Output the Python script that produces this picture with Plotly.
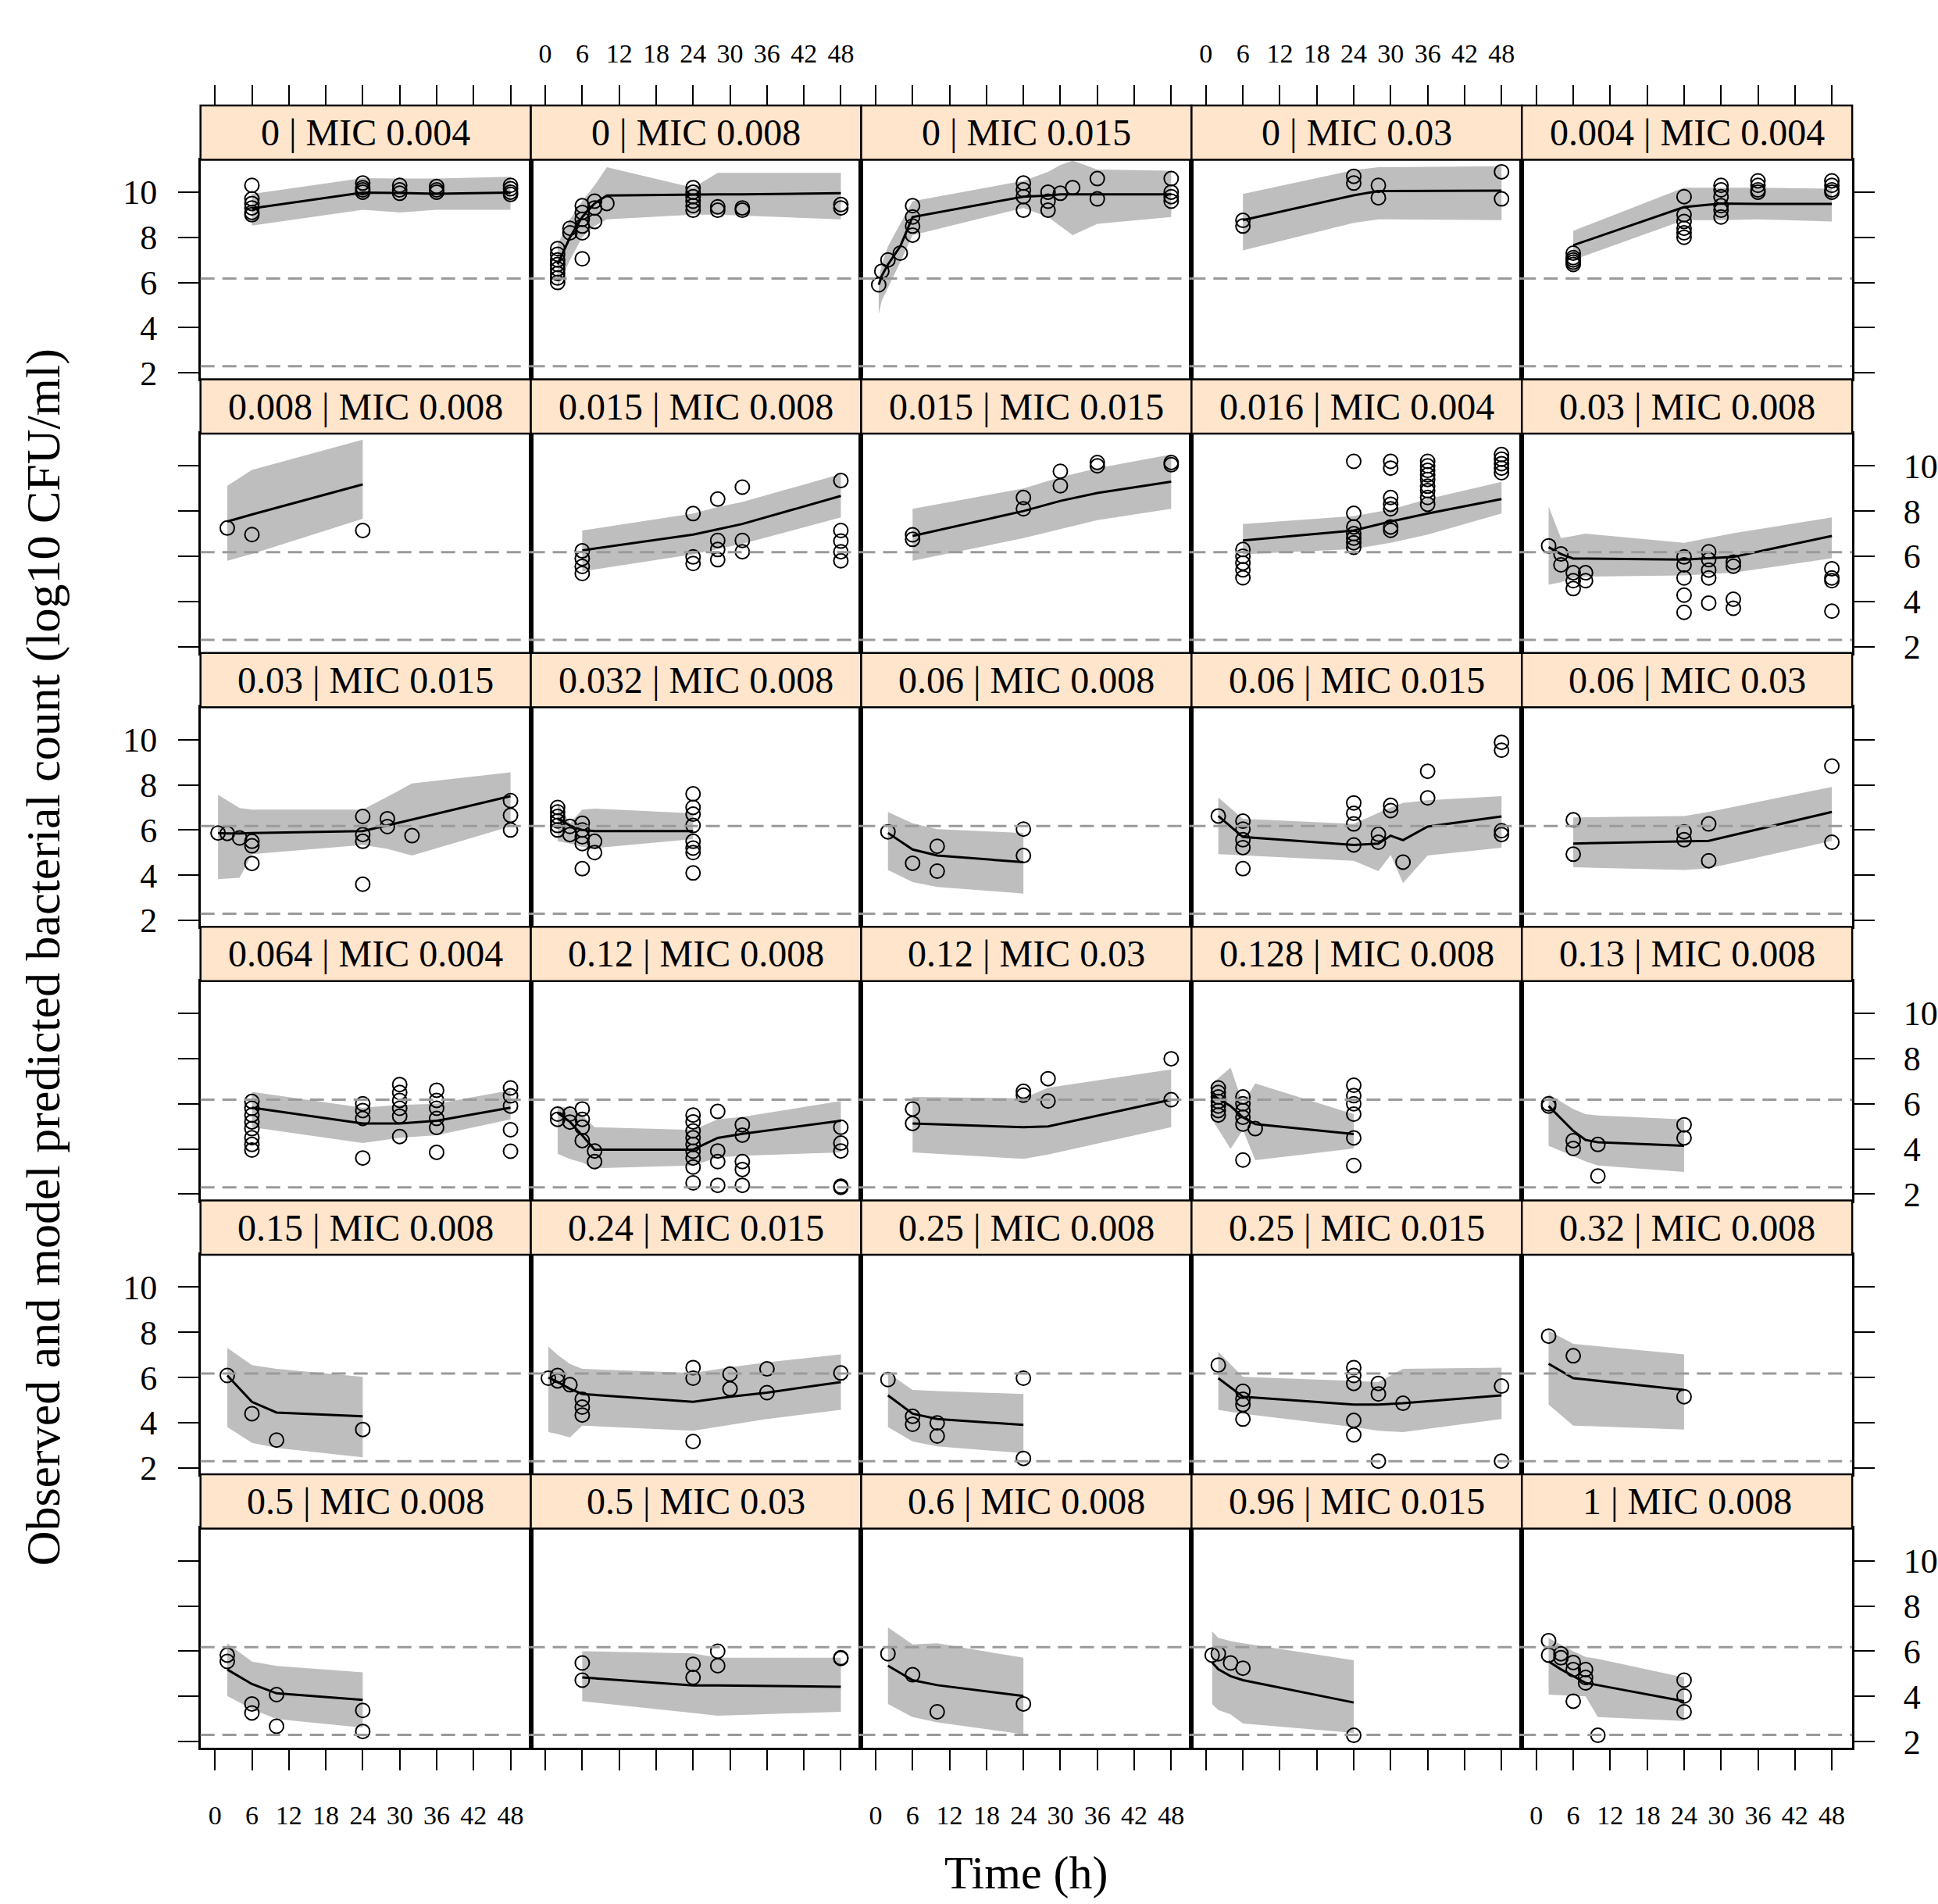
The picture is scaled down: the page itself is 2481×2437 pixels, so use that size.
import plotly.graph_objects as go

# ---------------- data ----------------
doses = ["0", "0", "0", "0", "0.004",
         "0.008", "0.015", "0.015", "0.016", "0.03",
         "0.03", "0.032", "0.06", "0.06", "0.06",
         "0.064", "0.12", "0.12", "0.128", "0.13",
         "0.15", "0.24", "0.25", "0.25", "0.32",
         "0.5", "0.5", "0.6", "0.96", "1"]
mics = ["0.004", "0.008", "0.015", "0.03", "0.004",
        "0.008", "0.008", "0.015", "0.004", "0.008",
        "0.015", "0.008", "0.008", "0.015", "0.03",
        "0.004", "0.008", "0.03", "0.008", "0.008",
        "0.008", "0.015", "0.008", "0.015", "0.008",
        "0.008", "0.03", "0.008", "0.015", "0.008"]

x_ticks = [0, 6, 12, 18, 24, 30, 36, 42, 48]
y_ticks = [2, 4, 6, 8, 10]
x_range = [-2.35, 51.3]
y_range = [1.72, 11.43]
limit_high = 6.18   # upper dashed reference line
limit_low = 2.3     # lower dashed reference line (LOQ)

p01_obs_t = [6, 6, 6, 6, 6, 6, 24, 24, 24, 24, 30, 30, 30, 36, 36, 36, 48, 48, 48, 48]
p01_obs_y = [10.3, 9.7, 9.5, 9.3, 9.1, 9.0, 10.4, 10.2, 10.1, 10.0, 10.3, 10.1, 9.95, 10.25, 10.1, 10.0, 10.3, 10.15, 10.0, 9.9]
p01_t = [6, 24, 30, 36, 48]
p01_med = [9.28, 9.98, 9.96, 9.93, 9.98]
p01_lo = [8.52, 9.22, 9.1, 9.22, 9.22]
p01_hi = [9.92, 10.62, 10.6, 10.6, 10.68]

p02_obs_t = [2, 2, 2, 2, 2, 2, 2, 2, 4, 4, 6, 6, 6, 6, 6, 6, 8, 8, 8, 10, 24, 24, 24, 24, 24, 24, 28, 28, 32, 32, 48, 48]
p02_obs_y = [7.5, 7.25, 7.0, 6.8, 6.6, 6.4, 6.2, 6.0, 8.4, 8.2, 9.4, 9.1, 8.8, 8.5, 8.2, 7.05, 9.6, 9.3, 8.7, 9.5, 10.2, 10.0, 9.8, 9.6, 9.4, 9.2, 9.35, 9.2, 9.3, 9.2, 9.45, 9.3]
p02_t = [2, 4, 6, 8, 10, 24, 28, 32, 48]
p02_med = [6.8, 8.0, 8.9, 9.5, 9.85, 9.9, 9.9, 9.9, 9.95]
p02_lo = [5.8, 7.0, 8.0, 8.5, 8.8, 9.0, 9.0, 8.95, 8.8]
p02_hi = [7.7, 8.8, 9.6, 10.3, 11.1, 10.2, 10.85, 10.85, 10.85]

p03_obs_t = [0.5, 1, 2, 4, 6, 6, 6, 6, 24, 24, 24, 24, 28, 28, 28, 30, 32, 36, 36, 48, 48, 48, 48]
p03_obs_y = [5.9, 6.5, 7.0, 7.3, 9.4, 8.9, 8.5, 8.1, 10.4, 10.1, 9.8, 9.2, 10.0, 9.6, 9.2, 9.95, 10.2, 10.6, 9.7, 10.6, 10.0, 9.8, 9.6]
p03_t = [0.5, 1, 2, 4, 6, 24, 28, 30, 32, 36, 48]
p03_med = [5.9, 6.3, 6.8, 7.6, 8.9, 9.8, 9.85, 9.9, 9.9, 9.9, 9.9]
p03_lo = [4.6, 5.2, 5.8, 6.9, 8.1, 9.3, 8.9, 8.5, 8.1, 8.6, 8.9]
p03_hi = [6.2, 6.8, 7.6, 8.6, 9.6, 10.5, 10.9, 11.2, 11.4, 11.0, 10.95]

p04_obs_t = [6, 6, 24, 24, 28, 28, 48, 48]
p04_obs_y = [8.75, 8.5, 10.7, 10.4, 10.3, 9.75, 10.9, 9.7]
p04_t = [6, 24, 28, 48]
p04_med = [8.76, 9.86, 10.05, 10.07]
p04_lo = [7.42, 8.64, 8.8, 8.76]
p04_hi = [9.92, 10.97, 11.1, 11.15]

p05_obs_t = [6, 6, 6, 6, 6, 24, 24, 24, 24, 24, 24, 30, 30, 30, 30, 30, 30, 36, 36, 36, 36, 48, 48, 48, 48]
p05_obs_y = [7.3, 7.1, 7.0, 6.9, 6.8, 9.8, 9.0, 8.7, 8.4, 8.2, 8.0, 10.3, 10.1, 9.8, 9.4, 9.2, 8.9, 10.5, 10.3, 10.1, 10.0, 10.5, 10.3, 10.1, 10.0]
p05_t = [6, 24, 30, 36, 48]
p05_med = [7.65, 9.34, 9.5, 9.48, 9.48]
p05_lo = [7.0, 8.76, 8.76, 8.8, 8.7]
p05_hi = [8.29, 10.2, 10.2, 10.2, 10.15]

p06_obs_t = [2, 6, 24]
p06_obs_y = [7.25, 6.96, 7.14]
p06_t = [2, 6, 24]
p06_med = [7.54, 7.85, 9.18]
p06_lo = [5.8, 6.1, 7.66]
p06_hi = [9.12, 9.82, 11.16]

p07_obs_t = [6, 6, 6, 6, 24, 24, 24, 28, 28, 28, 28, 32, 32, 32, 48, 48, 48, 48, 48]
p07_obs_y = [6.24, 5.9, 5.55, 5.24, 7.89, 5.97, 5.68, 8.53, 6.7, 6.3, 5.85, 9.06, 6.7, 6.2, 9.35, 7.14, 6.67, 6.2, 5.8]
p07_t = [6, 24, 28, 32, 48]
p07_med = [6.26, 6.96, 7.19, 7.43, 8.67]
p07_lo = [5.33, 6.09, 6.32, 6.55, 7.72]
p07_hi = [7.14, 7.89, 8.18, 8.4, 9.64]

p08_obs_t = [6, 6, 24, 24, 30, 30, 36, 36, 48, 48]
p08_obs_y = [6.95, 6.75, 8.6, 8.1, 9.76, 9.12, 10.15, 10.0, 10.15, 10.05]
p08_t = [6, 24, 30, 36, 48]
p08_med = [6.9, 8.0, 8.45, 8.8, 9.3]
p08_lo = [5.8, 6.8, 7.2, 7.6, 8.1]
p08_hi = [8.1, 9.0, 9.5, 9.9, 10.5]

p09_obs_t = [6, 6, 6, 6, 6, 24, 24, 24, 24, 24, 24, 24, 30, 30, 30, 30, 30, 30, 30,
             36, 36, 36, 36, 36, 36, 36, 36, 36, 48, 48, 48, 48, 48]
p09_obs_y = [6.3, 6.0, 5.7, 5.4, 5.05, 10.2, 7.9, 7.3, 7.0, 6.8, 6.6, 6.4, 10.2, 9.9, 8.6, 8.3, 8.1, 7.3, 7.15,
             10.2, 10.0, 9.8, 9.6, 9.4, 9.1, 8.9, 8.6, 8.3, 10.5, 10.3, 10.1, 9.9, 9.7]
p09_t = [6, 24, 30, 36, 48]
p09_med = [6.7, 7.14, 7.54, 7.89, 8.53]
p09_lo = [6.09, 6.32, 6.6, 6.96, 7.89]
p09_hi = [7.43, 7.78, 8.07, 8.53, 9.29]

p10_obs_t = [2, 4, 4, 6, 6, 6, 8, 8, 24, 24, 24, 24, 24, 28, 28, 28, 28, 28, 32, 32, 32, 32, 48, 48, 48, 48]
p10_obs_y = [6.46, 6.1, 5.62, 5.27, 4.92, 4.57, 5.27, 4.92, 5.97, 5.62, 5.04, 4.28, 3.52, 6.2, 5.85, 5.39, 5.04, 3.93, 5.74, 5.56, 4.1, 3.7, 5.45, 5.04, 4.92, 3.57]
p10_t = [2, 4, 6, 8, 24, 28, 32, 48]
p10_med = [6.4, 6.1, 5.9, 5.9, 5.85, 5.9, 5.97, 6.9]
p10_lo = [4.75, 4.85, 5.04, 5.1, 5.15, 5.2, 5.27, 5.91]
p10_hi = [8.2, 6.8, 6.9, 7.0, 6.6, 6.8, 7.02, 7.72]

p11_obs_t = [0.5, 2, 4, 6, 6, 6, 24, 24, 24, 24, 28, 28, 32, 48, 48, 48]
p11_obs_y = [5.87, 5.85, 5.65, 5.5, 5.3, 4.52, 6.6, 5.8, 5.5, 3.6, 6.5, 6.15, 5.75, 7.3, 6.65, 6.0]
p11_t = [0.5, 2, 4, 6, 24, 28, 32, 48]
p11_med = [5.87, 5.85, 5.85, 5.87, 5.95, 6.2, 6.46, 7.5]
p11_lo = [3.83, 3.85, 3.89, 4.93, 5.34, 5.17, 4.87, 6.16]
p11_hi = [7.56, 7.3, 6.97, 6.9, 6.9, 7.47, 8.06, 8.55]

p12_obs_t = [2, 2, 2, 2, 2, 2, 4, 4, 6, 6, 6, 6, 6, 8, 8, 24, 24, 24, 24, 24, 24, 24, 24]
p12_obs_y = [7.0, 6.8, 6.6, 6.4, 6.2, 6.0, 6.16, 5.8, 6.3, 6.0, 5.7, 5.4, 4.29, 5.5, 5.0, 7.6, 7.0, 6.7, 6.2, 5.5, 5.2, 5.0, 4.1]
p12_t = [2, 4, 6, 8, 24]
p12_med = [6.5, 6.2, 6.0, 5.95, 5.95]
p12_lo = [5.5, 5.4, 5.25, 5.2, 5.6]
p12_hi = [7.2, 6.3, 6.9, 6.95, 6.74]

p13_obs_t = [2, 6, 10, 10, 24, 24]
p13_obs_y = [5.92, 4.53, 5.28, 4.18, 6.04, 4.87]
p13_t = [2, 6, 10, 24]
p13_med = [5.87, 5.14, 4.87, 4.58]
p13_lo = [4.23, 3.7, 3.48, 3.19]
p13_hi = [6.8, 6.3, 6.04, 5.87]

p14_obs_t = [2, 6, 6, 6, 6, 6, 24, 24, 24, 24, 28, 28, 30, 30, 32, 36, 36, 48, 48, 48, 48]
p14_obs_y = [6.62, 6.39, 6.04, 5.57, 5.22, 4.29, 7.2, 6.74, 6.27, 5.34, 5.81, 5.46, 7.09, 6.86, 4.58, 8.6, 7.42, 9.88, 9.53, 5.97, 5.8]
p14_t = [2, 6, 24, 28, 30, 32, 36, 48]
p14_med = [6.62, 5.69, 5.34, 5.4, 5.75, 5.55, 6.15, 6.6]
p14_lo = [4.93, 4.87, 4.64, 4.18, 4.9, 3.65, 4.87, 5.22]
p14_hi = [7.44, 6.5, 6.27, 6.74, 7.0, 7.2, 7.32, 7.5]

p15_obs_t = [6, 6, 24, 24, 28, 28, 48, 48]
p15_obs_y = [6.45, 4.93, 5.92, 5.57, 6.27, 4.64, 8.83, 5.46]
p15_t = [6, 24, 28, 48]
p15_med = [5.4, 5.48, 5.52, 6.8]
p15_lo = [4.35, 4.23, 4.3, 5.52]
p15_hi = [6.56, 6.62, 6.8, 7.91]

p16_obs_t = [6, 6, 6, 6, 6, 6, 6, 6, 24, 24, 24, 24, 30, 30, 30, 30, 30, 30, 36, 36, 36, 36, 36, 36, 48, 48, 48, 48, 48]
p16_obs_y = [6.1, 5.8, 5.5, 5.2, 4.9, 4.5, 4.2, 3.95, 6.0, 5.7, 5.35, 3.6, 6.85, 6.5, 6.15, 5.8, 5.45, 4.55, 6.6, 6.15, 5.8, 5.35, 4.95, 3.85, 6.7, 6.35, 5.9, 4.85, 3.9]
p16_t = [6, 24, 30, 36, 48]
p16_med = [5.83, 5.13, 5.13, 5.25, 5.83]
p16_lo = [4.96, 4.26, 4.5, 4.61, 5.31]
p16_hi = [6.53, 5.83, 5.95, 6.0, 6.6]

p17_obs_t = [2, 2, 4, 4, 6, 6, 6, 6, 8, 8, 24, 24, 24, 24, 24, 24, 24, 24, 24, 28, 28, 28, 28, 32, 32, 32, 32, 32, 48, 48, 48, 48, 48]
p17_obs_y = [5.54, 5.31, 5.54, 5.19, 5.77, 5.31, 4.96, 4.37, 3.91, 3.44, 5.5, 5.2, 4.8, 4.5, 4.2, 3.9, 3.6, 3.2, 2.5, 5.66, 3.91, 3.44, 2.39, 5.07, 4.61, 3.44, 3.09, 2.39, 4.96, 4.26, 3.91, 2.35, 2.3]
p17_t = [2, 4, 6, 8, 24, 28, 32, 48]
p17_med = [5.6, 5.2, 4.6, 3.97, 3.97, 4.49, 4.67, 5.25]
p17_lo = [3.79, 3.55, 3.4, 3.15, 3.27, 3.62, 3.7, 3.85]
p17_hi = [5.89, 5.8, 5.5, 4.96, 4.84, 5.31, 5.42, 6.12]

p18_obs_t = [6, 6, 24, 24, 28, 28, 48, 48]
p18_obs_y = [5.77, 5.13, 6.55, 6.38, 7.11, 6.12, 7.99, 6.18]
p18_t = [6, 24, 28, 48]
p18_med = [5.13, 4.96, 5.0, 6.18]
p18_lo = [3.85, 3.56, 3.75, 4.96]
p18_hi = [6.3, 6.24, 6.71, 7.52]

p19_obs_t = [2, 2, 2, 2, 2, 2, 2, 6, 6, 6, 6, 6, 6, 8, 24, 24, 24, 24, 24, 24]
p19_obs_y = [6.7, 6.5, 6.3, 6.1, 5.9, 5.7, 5.5, 6.3, 6.0, 5.7, 5.4, 5.1, 3.51, 4.9, 6.82, 6.36, 6.0, 5.54, 4.49, 3.27]
p19_t = [1, 4, 6, 8, 24]
p19_med = [6.4, 5.9, 5.4, 5.1, 4.66]
p19_lo = [5.3, 4.0, 4.85, 3.5, 4.02]
p19_hi = [6.9, 7.6, 6.0, 6.9, 5.54]

p20_obs_t = [2, 2, 6, 6, 10, 10, 24, 24]
p20_obs_y = [6.0, 5.9, 4.37, 4.02, 4.2, 2.8, 5.07, 4.49]
p20_t = [2, 6, 8, 10, 24]
p20_med = [5.9, 4.8, 4.4, 4.3, 4.14]
p20_lo = [4.14, 3.68, 3.45, 3.27, 2.98]
p20_hi = [6.42, 5.77, 5.54, 5.48, 5.31]

p21_obs_t = [2, 6, 10, 24]
p21_obs_y = [6.09, 4.4, 3.23, 3.7]
p21_t = [2, 6, 10, 24]
p21_med = [6.09, 4.92, 4.45, 4.28]
p21_lo = [3.81, 3.11, 2.88, 2.47]
p21_hi = [7.31, 6.55, 6.38, 6.03]

p22_obs_t = [0.5, 2, 2, 4, 6, 6, 6, 24, 24, 24, 30, 30, 36, 36, 48]
p22_obs_y = [5.97, 6.09, 5.85, 5.68, 5.04, 4.69, 4.34, 6.44, 5.97, 3.17, 6.15, 5.5, 6.38, 5.33, 6.2]
p22_t = [0.5, 2, 4, 6, 24, 30, 36, 48]
p22_med = [6.0, 5.8, 5.5, 5.27, 4.92, 5.15, 5.33, 5.8]
p22_lo = [3.58, 3.5, 3.35, 3.87, 3.64, 3.9, 4.16, 4.57]
p22_hi = [7.37, 7.0, 6.6, 6.38, 6.2, 6.45, 6.67, 7.02]

p23_obs_t = [2, 6, 6, 10, 10, 24, 24]
p23_obs_y = [5.91, 4.28, 3.93, 3.99, 3.41, 5.97, 2.42]
p23_t = [2, 6, 10, 24]
p23_med = [5.21, 4.4, 4.16, 3.9]
p23_lo = [3.81, 3.17, 2.95, 2.65]
p23_hi = [6.2, 5.45, 5.4, 5.27]

p24_obs_t = [2, 6, 6, 6, 6, 24, 24, 24, 24, 24, 28, 28, 28, 32, 48, 48]
p24_obs_y = [6.55, 5.39, 5.04, 4.8, 4.16, 6.44, 6.09, 5.74, 4.1, 3.46, 5.74, 5.27, 2.3, 4.86, 5.62, 2.3]
p24_t = [2, 6, 24, 28, 32, 48]
p24_med = [5.97, 5.15, 4.8, 4.8, 4.86, 5.21]
p24_lo = [4.57, 4.4, 3.81, 3.64, 3.58, 4.16]
p24_hi = [7.14, 6.03, 5.85, 5.8, 6.38, 6.44]

p25_obs_t = [2, 6, 24]
p25_obs_y = [7.83, 6.96, 5.15]
p25_t = [2, 6, 24]
p25_med = [6.61, 5.97, 5.45]
p25_lo = [4.8, 3.87, 3.7]
p25_hi = [8.07, 7.49, 7.02]

p26_obs_t = [2, 2, 6, 6, 10, 10, 24, 24]
p26_obs_y = [5.83, 5.55, 3.67, 3.27, 4.08, 2.68, 3.38, 2.45]
p26_t = [2, 6, 10, 24]
p26_med = [5.19, 4.55, 4.14, 3.85]
p26_lo = [4.02, 3.44, 3.0, 2.62]
p26_hi = [6.35, 5.54, 5.35, 5.07]

p27_obs_t = [6, 6, 24, 24, 28, 28, 48, 48]
p27_obs_y = [5.48, 4.72, 5.42, 4.84, 6.0, 5.36, 5.71, 5.68]
p27_t = [6, 24, 28, 48]
p27_med = [4.84, 4.49, 4.49, 4.43]
p27_lo = [3.79, 3.27, 3.15, 3.32]
p27_hi = [6.0, 5.9, 5.71, 5.71]

p28_obs_t = [2, 6, 10, 24]
p28_obs_y = [5.89, 4.96, 3.32, 3.67]
p28_t = [2, 6, 10, 24]
p28_med = [5.36, 4.72, 4.5, 4.02]
p28_lo = [3.67, 3.09, 2.85, 2.33]
p28_hi = [7.05, 6.3, 6.35, 5.71]

p29_obs_t = [1, 2, 4, 6, 24]
p29_obs_y = [5.83, 5.89, 5.48, 5.25, 2.28]
p29_t = [1, 2, 4, 6, 24]
p29_med = [5.5, 5.2, 4.9, 4.72, 3.73]
p29_lo = [3.67, 3.4, 3.21, 2.8, 2.39]
p29_hi = [6.88, 6.6, 6.45, 6.35, 5.6]

p30_obs_t = [2, 2, 4, 4, 6, 6, 6, 8, 8, 8, 10, 24, 24, 24]
p30_obs_y = [6.47, 5.83, 5.89, 5.71, 5.5, 5.19, 3.79, 5.19, 4.84, 4.6, 2.28, 4.72, 4.02, 3.32]
p30_t = [2, 4, 6, 8, 10, 24]
p30_med = [5.55, 5.2, 4.9, 4.6, 4.5, 3.79]
p30_lo = [4.08, 4.05, 4.03, 4.0, 3.09, 2.91]
p30_hi = [6.59, 6.3, 6.0, 5.75, 5.66, 4.84]

# ---------------- layout geometry (pixels) ----------------
W, H = 2481, 2437
GL, GR = 257, 2374
GT, GB = 136, 2253
NC, NR = 5, 6
CW = (GR - GL) / NC
RH = (GB - GT) / NR
SH = 70  # strip height

FONT = "Liberation Serif"
BAND = "#BEBEBE"
STRIP = "#FFE5CC"

fig = go.Figure()
shapes = []
annotations = []
layout = {}

g = globals()
for k in range(30):
    r, c = divmod(k, NC)
    n = f"p{k + 1:02d}"
    ot, oy = g[n + "_obs_t"], g[n + "_obs_y"]
    pt, pm, pl, ph = g[n + "_t"], g[n + "_med"], g[n + "_lo"], g[n + "_hi"]
    ax = "" if k == 0 else str(k + 1)
    xa, ya = "x" + ax, "y" + ax

    fig.add_trace(go.Scatter(x=pt + pt[::-1], y=ph + pl[::-1], fill="toself",
                             fillcolor=BAND, mode="lines", line=dict(width=0),
                             xaxis=xa, yaxis=ya, hoverinfo="skip", showlegend=False))
    fig.add_trace(go.Scatter(x=pt, y=pm, mode="lines", line=dict(color="black", width=3),
                             xaxis=xa, yaxis=ya, showlegend=False))
    fig.add_trace(go.Scatter(x=ot, y=oy, mode="markers",
                             marker=dict(symbol="circle-open", size=18, color="black",
                                         line=dict(width=2, color="black")),
                             xaxis=xa, yaxis=ya, showlegend=False))

    x0 = (GL + c * CW) / W
    x1 = (GL + (c + 1) * CW) / W
    stop = GT + r * RH
    y_top = 1 - (stop + SH) / H
    y_bot = 1 - (stop + RH) / H

    bottom_row = (r == NR - 1)
    layout["xaxis" + ax] = dict(
        domain=[x0, x1], anchor=ya, range=x_range, showgrid=False, zeroline=False,
        showline=True, mirror=True, linecolor="black", linewidth=2.5,
        tickmode="array", tickvals=x_ticks, ticktext=[str(v) for v in x_ticks],
        ticks="outside" if bottom_row else "", ticklen=26, tickwidth=2, tickcolor="black",
        showticklabels=bottom_row and c in (0, 2, 4), ticklabelstandoff=28,
        tickfont=dict(family=FONT, size=34, color="black"))
    yside = "right" if c == NC - 1 else "left"
    has_yt = c in (0, NC - 1)
    ylab = (c == 0 and r in (0, 2, 4)) or (c == NC - 1 and r in (1, 3, 5))
    layout["yaxis" + ax] = dict(
        domain=[y_bot, y_top], anchor=xa, range=y_range, side=yside,
        showgrid=False, zeroline=False, showline=True, mirror=True,
        linecolor="black", linewidth=2.5,
        tickmode="array", tickvals=y_ticks, ticktext=[str(v) for v in y_ticks],
        ticks="outside" if has_yt else "", ticklen=26, tickwidth=2, tickcolor="black",
        showticklabels=ylab, ticklabelstandoff=28 if c == NC - 1 else 18,
        tickfont=dict(family=FONT, size=44, color="black"))

    # reference dashed lines
    for lv in (limit_high, limit_low):
        shapes.append(dict(type="line", xref=xa + " domain", x0=0, x1=1, yref=ya, y0=lv, y1=lv,
                           line=dict(color="#9A9A9A", width=3, dash="18px,10px"), layer="above"))
    # strip
    shapes.append(dict(type="rect", xref="paper", yref="paper", x0=x0, x1=x1,
                       y0=y_top, y1=1 - stop / H, fillcolor=STRIP,
                       line=dict(color="black", width=2.5), layer="above"))
    annotations.append(dict(xref="paper", yref="paper", x=(x0 + x1) / 2,
                            y=1 - (stop + SH / 2) / H, text=f"{doses[k]} | MIC {mics[k]}",
                            showarrow=False, xanchor="center", yanchor="middle",
                            font=dict(family=FONT, size=48, color="black")))

# top tick axes (above the first-row strips)
for c in range(NC):
    idx = 31 + c
    x0 = (GL + c * CW) / W
    x1 = (GL + (c + 1) * CW) / W
    layout[f"xaxis{idx}"] = dict(
        domain=[x0, x1], anchor="free", position=1 - GT / H, side="top",
        overlaying="x" if c == 0 else f"x{c + 1}",
        range=x_range, showgrid=False, zeroline=False, showline=False,
        tickmode="array", tickvals=x_ticks, ticktext=[str(v) for v in x_ticks],
        ticks="outside", ticklen=26, tickwidth=2, tickcolor="black",
        showticklabels=c in (1, 3), ticklabelstandoff=15,
        tickfont=dict(family=FONT, size=34, color="black"))
    fig.add_trace(go.Scatter(x=[None], y=[None], mode="markers", xaxis=f"x{idx}",
                             yaxis="y" if c == 0 else f"y{c + 1}", showlegend=False,
                             hoverinfo="skip"))

annotations.append(dict(xref="paper", yref="paper", x=55 / W, y=1 - 1234 / H,
                        text="Observed and model predicted bacterial count (log10 CFU/ml)",
                        textangle=-90, showarrow=False, xanchor="center", yanchor="middle",
                        font=dict(family=FONT, size=62, color="black")))
annotations.append(dict(xref="paper", yref="paper", x=(GL + GR) / 2 / W, y=1 - 2414 / H,
                        text="Time (h)", showarrow=False, xanchor="center", yanchor="middle",
                        font=dict(family=FONT, size=60, color="black")))

fig.update_layout(width=W, height=H, margin=dict(l=0, r=0, t=0, b=0),
                  paper_bgcolor="white", plot_bgcolor="white", showlegend=False,
                  shapes=shapes, annotations=annotations, **layout)
fig.write_html("out.html", config={"displayModeBar": False},
               post_script="document.body.style.margin='0px';")
